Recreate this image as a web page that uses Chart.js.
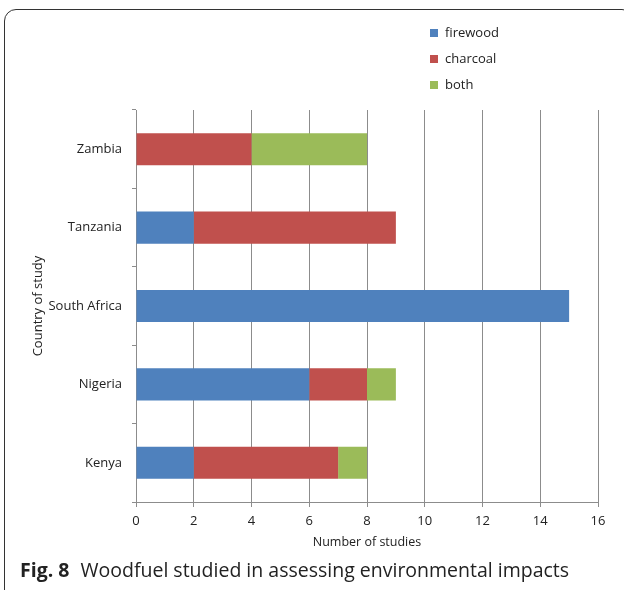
<!DOCTYPE html>
<html>
<head>
<meta charset="utf-8">
<script src="https://cdn.jsdelivr.net/npm/chart.js@4.4.0/dist/chart.umd.min.js"></script>
<style>
  body { margin: 0; background: #fff; }
  #wrap { position: relative; width: 624px; height: 590px; overflow: hidden; }
  #frame {
    position: absolute; left: 4px; top: 9px; width: 630px; height: 640px;
    border: 1.5px solid #333; border-radius: 12px; box-sizing: border-box;
  }
  canvas { position: absolute; left: 0; top: 0; }
  #caption {
    position: absolute; left: 20px; top: 556px;
    font-family: "Open Sans", sans-serif; font-size: 19.5px; color: #222;
    white-space: nowrap;
  }
  #caption b { font-weight: 700; margin-right: 6px; }
</style>
</head>
<body>
<div id="wrap">
  <div id="frame"></div>
  <canvas id="grafica" width="624" height="590"></canvas>
  <div id="caption"><b>Fig. 8</b> Woodfuel studied in assessing environmental impacts</div>
</div>
<script>
const paises = ["Zambia", "Tanzania", "South Africa", "Nigeria", "Kenya"];
const lenia = [0, 2, 15, 6, 2];
const carbon = [4, 7, 0, 2, 5];
const ambos = [4, 0, 0, 1, 1];
const ticksX = [0, 2, 4, 6, 8, 10, 12, 14, 16];

const fuente = '"Open Sans", sans-serif';

// Leyenda vertical arriba a la derecha
const leyenda = {
    id: "leyenda",
    afterDraw(chart) {
        const ctx = chart.ctx;
        ctx.save();
        ctx.font = "13px " + fuente;
        ctx.textBaseline = "middle";
        chart.data.datasets.forEach((ds, i) => {
            const y = 33 + i * 26;
            ctx.fillStyle = ds.backgroundColor;
            ctx.fillRect(430, y - 4, 8, 8);
            ctx.fillStyle = "#222";
            ctx.fillText(ds.label, 445, y);
        });
        ctx.restore();
    },
};

new Chart(document.getElementById("grafica").getContext("2d"), {
    type: "bar",
    data: {
        labels: paises,
        datasets: [
            { label: "firewood", data: lenia, backgroundColor: "#4F81BD" },
            { label: "charcoal", data: carbon, backgroundColor: "#C0504D" },
            { label: "both", data: ambos, backgroundColor: "#9BBB59" },
        ],
    },
    options: {
        indexAxis: "y",
        responsive: false,
        animation: false,
        layout: { padding: { top: 110, right: 26, bottom: 40, left: 0 } },
        datasets: { bar: { categoryPercentage: 1, barPercentage: 0.41 } },
        plugins: { legend: { display: false }, tooltip: { enabled: false } },
        scales: {
            x: {
                stacked: true,
                min: 0,
                max: 16,
                afterBuildTicks: (s) => { s.ticks = ticksX.map((v) => ({ value: v })); },
                afterFit: (s) => { s.height = 48; },
                grid: { color: "#8c8c8c", lineWidth: 1, tickLength: 5 },
                border: { color: "#8c8c8c" },
                ticks: { color: "#222", font: { family: fuente, size: 13 }, padding: 6 },
                title: { display: true, text: "Number of studies", color: "#222", font: { family: fuente, size: 12.5 }, padding: { top: 2, bottom: 0 } },
            },
            y: {
                stacked: true,
                afterFit: (s) => { s.width = 136; },
                grid: { drawOnChartArea: false, offset: true, color: "#8c8c8c", tickLength: 4 },
                border: { color: "#8c8c8c" },
                ticks: { color: "#222", font: { family: fuente, size: 13 }, padding: 10 },
                title: { display: true, text: "Country of study", color: "#222", font: { family: fuente, size: 13 }, padding: { top: 30, bottom: 0 } },
            },
        },
    },
    plugins: [leyenda],
});
</script>
</body>
</html>
